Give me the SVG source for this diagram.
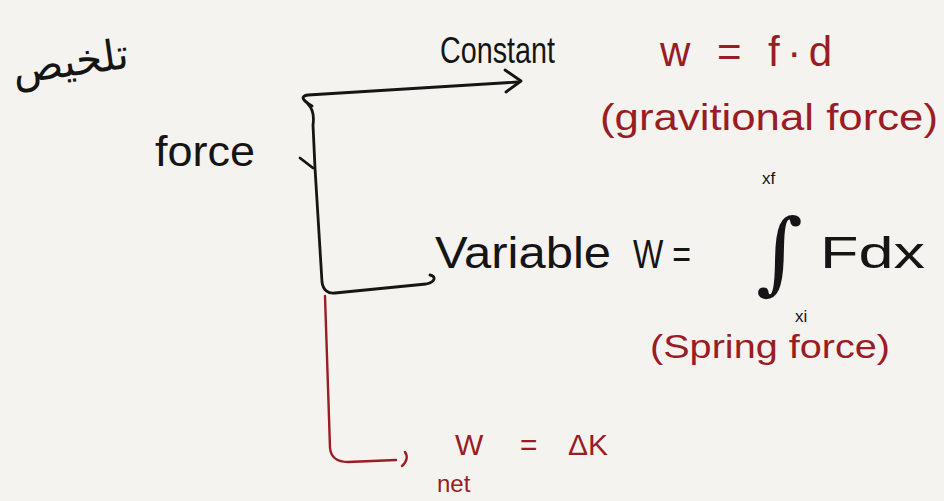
<svg xmlns="http://www.w3.org/2000/svg" width="944" height="501" viewBox="0 0 944 501">
<style>
.ink{font-family:"Liberation Sans","Open Sans",sans-serif;fill:#151515}
.red{font-family:"Liberation Sans","Open Sans",sans-serif;fill:#9a1c24}
.ln{fill:none;stroke:#151515;stroke-width:2.8;stroke-linecap:round;stroke-linejoin:round}
.lr{fill:none;stroke:#9a1c24;stroke-width:2.4;stroke-linecap:round;stroke-linejoin:round}
</style>
<rect width="944" height="501" fill="#f4f3f0"/>
<g id="title"><text x="70" y="76" font-size="42" text-anchor="middle" fill="#151515" transform="rotate(-8 70 60)" style="font-family:'DejaVu Sans',sans-serif">تلخيص</text></g>
<g id="connectors">
<path class="ln" d="M312,106 C302,100 300,96 308,95 L518,82"/>
<path class="ln" d="M505,70 L521,81 L506,92"/>
<path class="ln" d="M308,104 C314,110 314,118 313,125 L315,168 L322,282 C323,290 328,294 335,293 L426,284 C436,282 436,276 430,275"/>
<path class="ln" d="M300,158 L313,168"/>
<path class="lr" d="M325,296 L330,448 C331,458 338,462 348,462 L396,460"/>
<path class="lr" d="M405,452 C408,456 407,462 402,466"/>
</g>
<g id="force"><text x="155" y="166" class="ink" font-size="42" textLength="100" lengthAdjust="spacingAndGlyphs">force</text></g>
<g id="constant">
<text x="440" y="63" class="ink" font-size="36" textLength="115" lengthAdjust="spacingAndGlyphs">Constant</text>
<text x="660" y="66" class="red" font-size="42" textLength="172" lengthAdjust="spacing">w = f·d</text>
<text x="600" y="130" class="red" font-size="36" textLength="338" lengthAdjust="spacingAndGlyphs">(gravitional force)</text>
</g>
<g id="variable">
<text x="435" y="268" class="ink" font-size="44" textLength="176" lengthAdjust="spacingAndGlyphs">Variable</text>
<text x="633" y="268" class="ink" font-size="40" textLength="58" lengthAdjust="spacingAndGlyphs">W =</text>
<text x="756" y="283" class="ink" font-size="90" style="font-family:'DejaVu Serif',serif">∫</text>
<text x="762" y="184" class="ink" font-size="17">xf</text>
<text x="795" y="322" class="ink" font-size="17">xi</text>
<text x="820" y="268" class="ink" font-size="44" textLength="105" lengthAdjust="spacingAndGlyphs">Fdx</text>
<text x="650" y="358" class="red" font-size="34" textLength="240" lengthAdjust="spacingAndGlyphs">(Spring force)</text>
</g>
<g id="net">
<text x="455" y="455" class="red" font-size="30">W</text>
<text x="437" y="492" class="red" font-size="24">net</text>
<text x="520" y="455" class="red" font-size="30">=</text>
<text x="568" y="455" class="red" font-size="30">ΔK</text>
</g>
</svg>
